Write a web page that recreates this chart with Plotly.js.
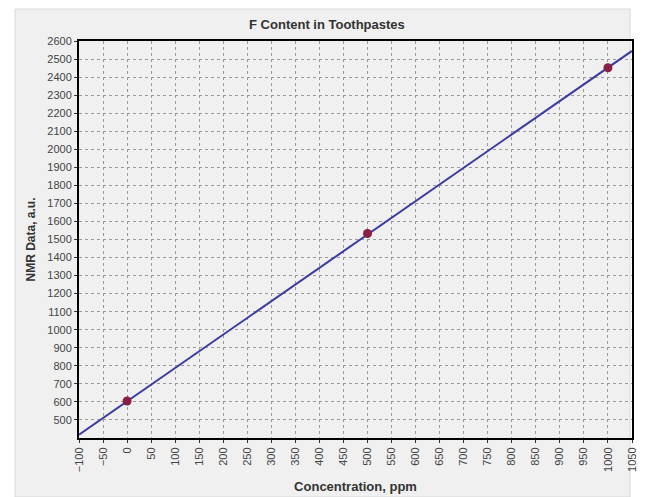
<!DOCTYPE html>
<html>
<head>
<meta charset="utf-8">
<script src="https://cdn.plot.ly/plotly-3.0.1.min.js"></script>
<style>html,body{margin:0;padding:0;background:#fff;}#chart{width:650px;height:497px;}</style>
</head>
<body>
<div id="chart"></div>
<script>
// Data
var concentration = [0, 500, 1000];
var nmrData = [605, 1533, 2452];
var fitX = [-100, 1050];
var fitY = [418, 2545];
var xRange = [-100, 1050];
var yRange = [400, 2600];
var yTickVals = [500, 600, 700, 800, 900, 1000, 1100, 1200, 1300, 1400, 1500, 1600,
                 1700, 1800, 1900, 2000, 2100, 2200, 2300, 2400, 2500, 2600];

var traces = [
  {x: fitX, y: fitY, mode: 'lines', type: 'scatter',
   line: {color: '#3c3ca0', width: 2}, hoverinfo: 'skip', showlegend: false},
  {x: concentration, y: nmrData, mode: 'markers', type: 'scatter',
   marker: {color: '#8a1f45', size: 9}, showlegend: false}
];

var layout = {
  width: 650, height: 497,
  margin: {l: 79, r: 18, t: 41, b: 59, pad: 0},
  paper_bgcolor: '#ffffff',
  plot_bgcolor: '#ffffff',
  font: {family: '"Liberation Sans", Arial, sans-serif', color: '#333'},
  title: {text: '<b>F Content in Toothpastes</b>', x: 0.503, xanchor: 'center', y: 0.95, yanchor: 'middle',
          font: {size: 13, color: '#333'}},
  xaxis: {
    range: xRange, tick0: -100, dtick: 50, tickangle: -90,
    showgrid: true, gridcolor: '#9a9a9a', griddash: 'dot', gridwidth: 1,
    zeroline: false, showline: true, linecolor: '#000', linewidth: 2, mirror: true,
    ticks: 'outside', ticklen: 3, tickcolor: '#333',
    tickfont: {size: 11, color: '#444'},
    title: {text: '<b>Concentration, ppm</b>', font: {size: 13, color: '#333'}, standoff: 11},
    automargin: false
  },
  yaxis: {
    range: yRange, tickmode: 'array', tickvals: yTickVals,
    showgrid: true, gridcolor: '#9a9a9a', griddash: 'dot', gridwidth: 1,
    zeroline: false, showline: true, linecolor: '#000', linewidth: 2, mirror: true,
    ticks: 'outside', ticklen: 3, tickcolor: '#333',
    tickfont: {size: 11, color: '#444'},
    title: {text: '<b>NMR Data, a.u.</b>', font: {size: 12, color: '#333'}, standoff: 9},
    automargin: false
  },
  shapes: [
    {type: 'rect', xref: 'paper', yref: 'paper', layer: 'below',
     x0: -66/571, x1: 569/571, y0: -59/397, y1: (397+32)/397,
     fillcolor: '#f0f0f0', line: {color: '#d8d8d8', width: 1}}
  ]
};

Plotly.newPlot('chart', traces, layout, {displayModeBar: false, staticPlot: true});
</script>
</body>
</html>
